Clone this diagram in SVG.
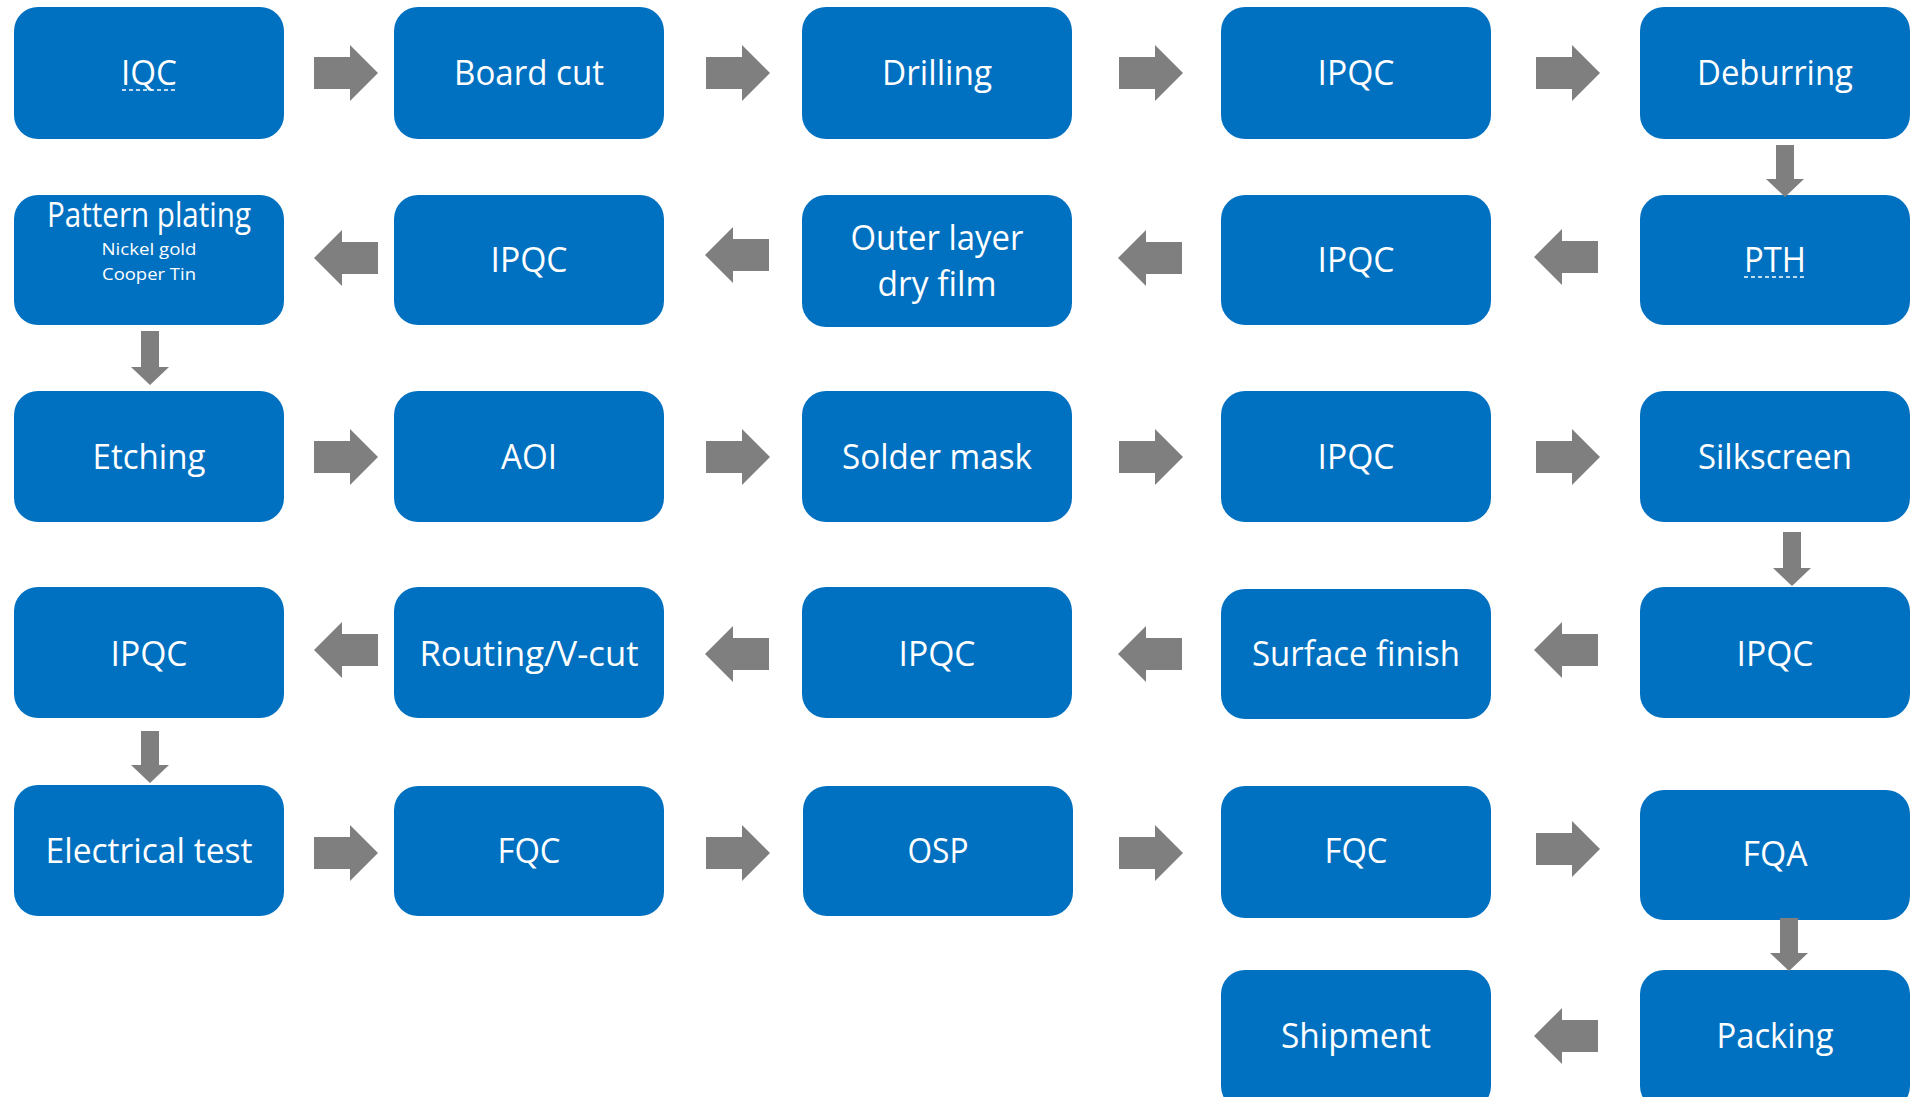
<svg xmlns="http://www.w3.org/2000/svg" width="1911" height="1097" viewBox="0 0 1911 1097">
  <style>
    .box { fill: #0070C0; }
    .lbl { fill: #ffffff; font-family: "Open Sans", "Noto Sans", "Liberation Sans", sans-serif; font-size: 34px; text-anchor: middle; }
    .sub { fill: #ffffff; font-family: "Open Sans", "Noto Sans", "Liberation Sans", sans-serif; font-size: 17px; text-anchor: middle; }
    .squiggle { stroke: #ffffff; stroke-width: 1.5; stroke-dasharray: 4 3; fill: none; }
    .arrow { fill: #7F7F7F; }
  </style>
  <rect width="1911" height="1097" fill="#ffffff"/>

  <!-- Row 1 -->
  <g id="iqc">
    <rect class="box" x="14" y="7" width="270" height="132" rx="24"/>
    <text class="lbl" x="149" y="85" textLength="56" lengthAdjust="spacingAndGlyphs">IQC</text>
    <line class="squiggle" x1="122" y1="90" x2="178" y2="90"/>
  </g>
  <g id="board-cut">
    <rect class="box" x="394" y="7" width="270" height="132" rx="24"/>
    <text class="lbl" x="529" y="85" textLength="150" lengthAdjust="spacingAndGlyphs">Board cut</text>
  </g>
  <g id="drilling">
    <rect class="box" x="802" y="7" width="270" height="132" rx="24"/>
    <text class="lbl" x="937" y="85" textLength="110" lengthAdjust="spacingAndGlyphs">Drilling</text>
  </g>
  <g id="ipqc-1">
    <rect class="box" x="1221" y="7" width="270" height="132" rx="24"/>
    <text class="lbl" x="1356" y="85" textLength="77" lengthAdjust="spacingAndGlyphs">IPQC</text>
  </g>
  <g id="deburring">
    <rect class="box" x="1640" y="7" width="270" height="132" rx="24"/>
    <text class="lbl" x="1775" y="85" textLength="156" lengthAdjust="spacingAndGlyphs">Deburring</text>
  </g>

  <!-- Row 2 -->
  <g id="pattern-plating">
    <rect class="box" x="14" y="195" width="270" height="130" rx="24"/>
    <text class="lbl" x="149" y="227" textLength="204" lengthAdjust="spacingAndGlyphs">Pattern plating</text>
    <text class="sub" x="149" y="255" textLength="95" lengthAdjust="spacingAndGlyphs">Nickel gold</text>
    <text class="sub" x="149" y="280" textLength="94" lengthAdjust="spacingAndGlyphs">Cooper Tin</text>
  </g>
  <g id="ipqc-2">
    <rect class="box" x="394" y="195" width="270" height="130" rx="24"/>
    <text class="lbl" x="529" y="272" textLength="77" lengthAdjust="spacingAndGlyphs">IPQC</text>
  </g>
  <g id="outer-layer">
    <rect class="box" x="802" y="195" width="270" height="132" rx="24"/>
    <text class="lbl" x="937" y="250" textLength="173" lengthAdjust="spacingAndGlyphs">Outer layer</text>
    <text class="lbl" x="937" y="296" textLength="119" lengthAdjust="spacingAndGlyphs">dry film</text>
  </g>
  <g id="ipqc-3">
    <rect class="box" x="1221" y="195" width="270" height="130" rx="24"/>
    <text class="lbl" x="1356" y="272" textLength="77" lengthAdjust="spacingAndGlyphs">IPQC</text>
  </g>
  <g id="pth">
    <rect class="box" x="1640" y="195" width="270" height="130" rx="24"/>
    <text class="lbl" x="1775" y="272" textLength="62" lengthAdjust="spacingAndGlyphs">PTH</text>
    <line class="squiggle" x1="1744" y1="277" x2="1806" y2="277"/>
  </g>

  <!-- Row 3 -->
  <g id="etching">
    <rect class="box" x="14" y="391" width="270" height="131" rx="24"/>
    <text class="lbl" x="149" y="469" textLength="113" lengthAdjust="spacingAndGlyphs">Etching</text>
  </g>
  <g id="aoi">
    <rect class="box" x="394" y="391" width="270" height="131" rx="24"/>
    <text class="lbl" x="529" y="469" textLength="56" lengthAdjust="spacingAndGlyphs">AOI</text>
  </g>
  <g id="solder-mask">
    <rect class="box" x="802" y="391" width="270" height="131" rx="24"/>
    <text class="lbl" x="937" y="469" textLength="190" lengthAdjust="spacingAndGlyphs">Solder mask</text>
  </g>
  <g id="ipqc-4">
    <rect class="box" x="1221" y="391" width="270" height="131" rx="24"/>
    <text class="lbl" x="1356" y="469" textLength="77" lengthAdjust="spacingAndGlyphs">IPQC</text>
  </g>
  <g id="silkscreen">
    <rect class="box" x="1640" y="391" width="270" height="131" rx="24"/>
    <text class="lbl" x="1775" y="469" textLength="154" lengthAdjust="spacingAndGlyphs">Silkscreen</text>
  </g>

  <!-- Row 4 -->
  <g id="ipqc-5">
    <rect class="box" x="14" y="587" width="270" height="131" rx="24"/>
    <text class="lbl" x="149" y="666" textLength="77" lengthAdjust="spacingAndGlyphs">IPQC</text>
  </g>
  <g id="routing">
    <rect class="box" x="394" y="587" width="270" height="131" rx="24"/>
    <text class="lbl" x="529" y="666" textLength="219" lengthAdjust="spacingAndGlyphs">Routing/V-cut</text>
  </g>
  <g id="ipqc-6">
    <rect class="box" x="802" y="587" width="270" height="131" rx="24"/>
    <text class="lbl" x="937" y="666" textLength="77" lengthAdjust="spacingAndGlyphs">IPQC</text>
  </g>
  <g id="surface-finish">
    <rect class="box" x="1221" y="589" width="270" height="130" rx="24"/>
    <text class="lbl" x="1356" y="666" textLength="208" lengthAdjust="spacingAndGlyphs">Surface finish</text>
  </g>
  <g id="ipqc-7">
    <rect class="box" x="1640" y="587" width="270" height="131" rx="24"/>
    <text class="lbl" x="1775" y="666" textLength="77" lengthAdjust="spacingAndGlyphs">IPQC</text>
  </g>

  <!-- Row 5 -->
  <g id="electrical-test">
    <rect class="box" x="14" y="785" width="270" height="131" rx="24"/>
    <text class="lbl" x="149" y="863" textLength="207" lengthAdjust="spacingAndGlyphs">Electrical test</text>
  </g>
  <g id="fqc-1">
    <rect class="box" x="394" y="786" width="270" height="130" rx="24"/>
    <text class="lbl" x="529" y="863" textLength="63" lengthAdjust="spacingAndGlyphs">FQC</text>
  </g>
  <g id="osp">
    <rect class="box" x="803" y="786" width="270" height="130" rx="24"/>
    <text class="lbl" x="938" y="863" textLength="61" lengthAdjust="spacingAndGlyphs">OSP</text>
  </g>
  <g id="fqc-2">
    <rect class="box" x="1221" y="786" width="270" height="132" rx="24"/>
    <text class="lbl" x="1356" y="863" textLength="63" lengthAdjust="spacingAndGlyphs">FQC</text>
  </g>
  <g id="fqa">
    <rect class="box" x="1640" y="790" width="270" height="130" rx="24"/>
    <text class="lbl" x="1775" y="866" textLength="65" lengthAdjust="spacingAndGlyphs">FQA</text>
  </g>

  <!-- Row 6 -->
  <g id="shipment">
    <rect class="box" x="1221" y="970" width="270" height="140" rx="24"/>
    <text class="lbl" x="1356" y="1048" textLength="150" lengthAdjust="spacingAndGlyphs">Shipment</text>
  </g>
  <g id="packing">
    <rect class="box" x="1640" y="970" width="270" height="140" rx="24"/>
    <text class="lbl" x="1775" y="1048" textLength="117" lengthAdjust="spacingAndGlyphs">Packing</text>
  </g>

  <!-- Block arrows between steps -->
  <g id="connectors" class="arrow">
    <!-- row 1, pointing right -->
    <path d="M314,57 H350 V45 L378,73 L350,101 V89 H314 Z"/>
    <path d="M706,57 H742 V45 L770,73 L742,101 V89 H706 Z"/>
    <path d="M1119,57 H1155 V45 L1183,73 L1155,101 V89 H1119 Z"/>
    <path d="M1536,57 H1572 V45 L1600,73 L1572,101 V89 H1536 Z"/>
    <!-- Deburring down to PTH -->
    <path d="M1776,145 H1794 V179 H1804 L1785,197 L1766,179 H1776 Z"/>
    <!-- row 2, pointing left -->
    <path d="M1598,241 H1562 V229 L1534,257 L1562,285 V273 H1598 Z"/>
    <path d="M1182,242 H1146 V230 L1118,258 L1146,286 V274 H1182 Z"/>
    <path d="M769,239 H733 V227 L705,255 L733,283 V271 H769 Z"/>
    <path d="M378,242 H342 V230 L314,258 L342,286 V274 H378 Z"/>
    <!-- Pattern plating down to Etching -->
    <path d="M141,331 H159 V367 H169 L150,385 L131,367 H141 Z"/>
    <!-- row 3, pointing right -->
    <path d="M314,441 H350 V429 L378,457 L350,485 V473 H314 Z"/>
    <path d="M706,441 H742 V429 L770,457 L742,485 V473 H706 Z"/>
    <path d="M1119,441 H1155 V429 L1183,457 L1155,485 V473 H1119 Z"/>
    <path d="M1536,441 H1572 V429 L1600,457 L1572,485 V473 H1536 Z"/>
    <!-- Silkscreen down to IPQC -->
    <path d="M1783,532 H1801 V568 H1811 L1792,586 L1773,568 H1783 Z"/>
    <!-- row 4, pointing left -->
    <path d="M1598,634 H1562 V622 L1534,650 L1562,678 V666 H1598 Z"/>
    <path d="M1182,638 H1146 V626 L1118,654 L1146,682 V670 H1182 Z"/>
    <path d="M769,638 H733 V626 L705,654 L733,682 V670 H769 Z"/>
    <path d="M378,634 H342 V622 L314,650 L342,678 V666 H378 Z"/>
    <!-- IPQC down to Electrical test -->
    <path d="M141,731 H159 V765 H169 L150,783 L131,765 H141 Z"/>
    <!-- row 5, pointing right -->
    <path d="M314,837 H350 V825 L378,853 L350,881 V869 H314 Z"/>
    <path d="M706,837 H742 V825 L770,853 L742,881 V869 H706 Z"/>
    <path d="M1119,837 H1155 V825 L1183,853 L1155,881 V869 H1119 Z"/>
    <path d="M1536,833 H1572 V821 L1600,849 L1572,877 V865 H1536 Z"/>
    <!-- FQA down to Packing -->
    <path d="M1780,918 H1798 V953 H1808 L1789,971 L1770,953 H1780 Z"/>
    <!-- row 6, pointing left -->
    <path d="M1598,1020 H1562 V1008 L1534,1036 L1562,1064 V1052 H1598 Z"/>
  </g>
</svg>
